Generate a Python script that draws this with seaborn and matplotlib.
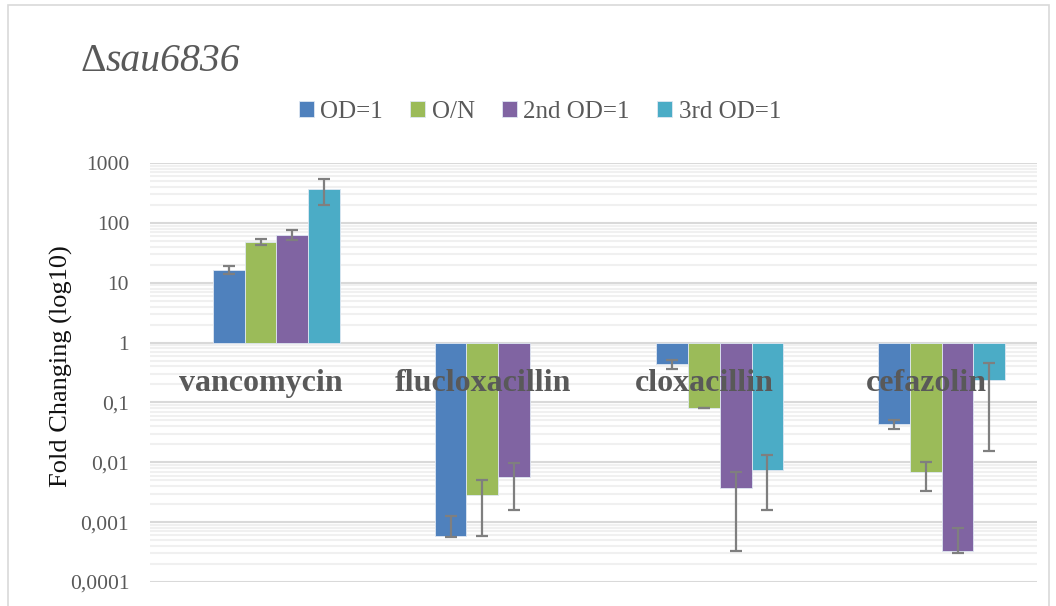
import numpy as np
import pandas as pd
import matplotlib
matplotlib.use("Agg")
import matplotlib.pyplot as plt
from matplotlib.patches import Rectangle
from matplotlib.container import BarContainer
import seaborn as sns

# ---------------- data ----------------
categories = ["vancomycin", "flucloxacillin", "cloxacillin", "cefazolin"]
series_names = ["OD=1", "O/N", "2nd OD=1", "3rd OD=1"]

od1 = [16.2, 0.00059, 0.445, 0.0442]
on = [47.6, 0.00287, 0.0809, 0.00688]
od2 = [63.2, 0.00568, 0.00366, 0.000324]
od3 = [362.0, np.nan, 0.00752, 0.238]

# error bar bounds (low / high) for each series
od1_lo = [14.1, 0.00057, 0.363, 0.0365]
od1_hi = [18.9, 0.00129, 0.52, 0.0509]
on_lo = [42.4, 0.00059, 0.0795, 0.00331]
on_hi = [53.4, 0.00506, 0.0818, 0.00997]
od2_lo = [52.2, 0.00161, 0.000324, 0.000311]
od2_hi = [76.7, 0.0096, 0.00697, 0.000794]
od3_lo = [201.0, np.nan, 0.00161, 0.0155]
od3_hi = [532.0, np.nan, 0.0130, 0.463]

tick_values = [1000, 100, 10, 1, 0.1, 0.01, 0.001, 0.0001]
tick_labels = ["1000", "100", "10", "1", "0,1", "0,01", "0,001", "0,0001"]

colors = ["#4F81BD", "#9BBB59", "#8064A2", "#4BACC6"]

# -------------- prepare --------------
values = [od1, on, od2, od3]
lows = [od1_lo, on_lo, od2_lo, od3_lo]
highs = [od1_hi, on_hi, od2_hi, od3_hi]

rows = []
for s, vals in zip(series_names, values):
    for c, v in zip(categories, vals):
        rows.append({"category": c, "series": s, "log_fc": np.log10(v)})
df = pd.DataFrame(rows)

sns.set_theme(style="white")
plt.rcParams["font.family"] = ["Liberation Serif", "DejaVu Serif"]

TXT = "#595959"

fig = plt.figure(figsize=(10.56, 6.06), dpi=100)
ax = fig.add_axes([150 / 1056, 1 - 582 / 606, (1037 - 150) / 1056, (582 - 163) / 606])

sns.barplot(data=df, x="category", y="log_fc", hue="series",
            order=categories, hue_order=series_names, palette=colors,
            width=0.572, saturation=1, errorbar=None, ax=ax,
            edgecolor="#dfe7f2", linewidth=0.6, zorder=3)

# error bars, placed on the drawn bars
bar_conts = [c for c in ax.containers if isinstance(c, BarContainer)]
for j, cont in enumerate(bar_conts):
    for bar in cont.patches:
        if bar is None:
            continue
        xc = bar.get_x() + bar.get_width() / 2
        i = int(round(xc))
        v = values[j][i]
        if np.isnan(v):
            continue
        lv = np.log10(v)
        lo = lv - np.log10(lows[j][i])
        hi = np.log10(highs[j][i]) - lv
        ax.errorbar(xc, lv, yerr=[[lo], [hi]], fmt="none", ecolor="#7f7f7f",
                    elinewidth=1.6, capsize=4.3, capthick=1.6, zorder=4)

# axes / grid
XL = -0.570
ax.set_ylim(np.log10(tick_values[-1]), np.log10(tick_values[0]))
ax.set_xlim(XL, XL + len(categories))
ax.set_yticks(np.log10(tick_values))
ax.set_yticklabels(tick_labels, color=TXT, fontsize=15.5)
minor = []
for d in range(-4, 3):
    for k in range(2, 10):
        minor.append(np.log10(k * 10.0 ** d))
ax.set_yticks(minor, minor=True)
ax.grid(axis="y", which="major", color="#d9d9d9", linewidth=1.5, zorder=0)
ax.grid(axis="y", which="minor", color="#f0f0f0", linewidth=1.5, zorder=0)
ax.set_axisbelow(True)
ax.tick_params(axis="y", which="both", length=0, pad=15)
ax.tick_params(axis="x", length=0)
ax.set_xticks([])
ax.set_xlabel("")
for sp in ax.spines.values():
    sp.set_visible(False)

ax.set_ylabel("Fold Changing (log10)", fontsize=19, color="#111111")
ax.yaxis.set_label_coords(-0.087, 0.515)

# category labels at the axis crossing (value 1), centred on category slots
for i, c in enumerate(categories):
    ax.text(i + XL + 0.5, -0.814, c, ha="center", va="baseline", fontsize=23,
            fontweight="bold", color=TXT, zorder=5)

# legend
handles, labels = ax.get_legend_handles_labels()
ax.get_legend().remove()
fig.legend(handles, labels, loc="center", bbox_to_anchor=(540 / 1056, 1 - 112 / 606),
           ncol=4, frameon=False, fontsize=18, handlelength=0.6, handleheight=0.6,
           handletextpad=0.25, columnspacing=1.1, labelcolor=TXT, borderaxespad=0)

# title: upright delta + italic gene name
t1 = fig.text(80 / 1056, 1 - 71 / 606, "\u0394", fontsize=28.5, color=TXT,
              ha="left", va="baseline")
ax.annotate("sau6836", xy=(1, 0), xycoords=t1, xytext=(0, 0),
            textcoords="offset points", fontsize=28.5, style="italic",
            color=TXT, ha="left", va="bottom", annotation_clip=False)

# chart border
fig.add_artist(Rectangle((8 / 1056, -0.05), (1049 - 8) / 1056, 1.05 - 5 / 606,
                         transform=fig.transFigure, fill=False,
                         edgecolor="#d9d9d9", linewidth=1.2))

fig.savefig("out.png", dpi=100, facecolor="white")
